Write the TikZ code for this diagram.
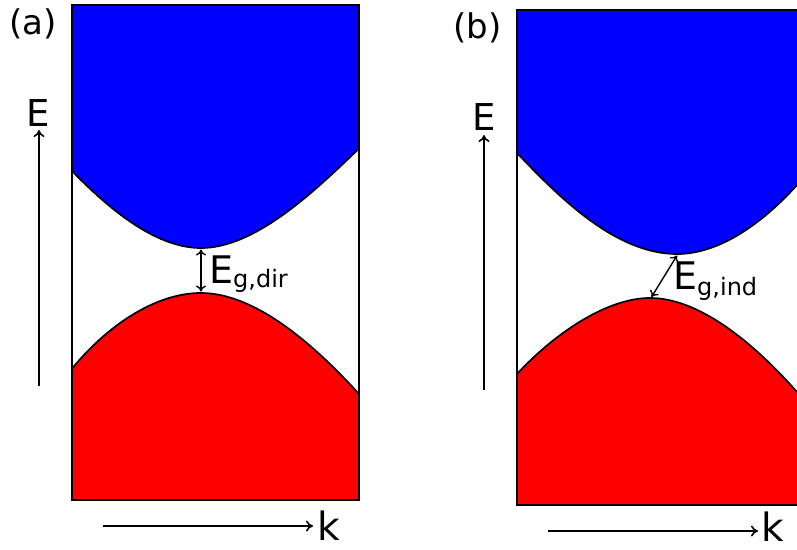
\documentclass[tikz,border=0pt]{standalone}
\usepackage{fontspec}
\setmainfont{DejaVu Sans}
\usetikzlibrary{arrows.meta}
\tikzset{
  frame/.style={draw=black, line width=2.8pt},
  band/.style={draw=black, line width=1.7pt},
  axis/.style={draw=black, line width=1.6pt, -{To[length=7pt,width=11pt]}},
  gap/.style={draw=black, line width=1.4pt, {To[length=6pt,width=10pt]}-{To[length=6pt,width=10pt]}},
  lbl/.style={inner sep=0pt, anchor=base},
  panel/.style={inner sep=0pt, anchor=base west, font=\fontsize{34}{34}\selectfont},
}
\definecolor{cband}{RGB}{0,0,255}
\definecolor{vband}{RGB}{255,0,0}
\begin{document}
\begin{tikzpicture}[x=1pt,y=-1pt]
\useasboundingbox (0,0) rectangle (797,549);
\clip (0,0) rectangle (797,549);
% ---------- panel (a)
\fill[cband] (72,5) -- (359,5) -- (359,148.5)
  .. controls (314,192) and (255,248) .. (201,248)
  .. controls (155,248) and (108,208) .. (72,171) -- cycle;
\fill[vband] (72,500) -- (72,368.6)
  .. controls (107,326) and (155,293) .. (201,293)
  .. controls (258,293) and (319,350) .. (359,394) -- (359,500) -- cycle;
\draw[band] (72,171) .. controls (108,208) and (155,248) .. (201,248)
  .. controls (255,248) and (314,192) .. (359,148.5);
\draw[band] (72,368.6) .. controls (107,326) and (155,293) .. (201,293)
  .. controls (258,293) and (319,350) .. (359,394);
\draw[frame] (72,5) rectangle (359,500);
\coordinate (cbmA) at (201,249.5);
\coordinate (vbmA) at (201,291.5);
\draw[gap] (cbmA) -- (vbmA);
\node[inner sep=0pt, anchor=base west] (gdir) at (209,283)
  {\fontsize{38}{38}\selectfont E\raisebox{-4pt}{\fontsize{24}{24}\selectfont g,dir}};
\node[panel] (pa) at (9,34) {(a)};
\node[lbl, font=\fontsize{37}{37}\selectfont] (Ea) at (38.5,126) {E};
\coordinate (EaS) at (39,386);
\coordinate (EaT) at (39,130);
\draw[axis] (EaS) -- (EaT);
\node[lbl, font=\fontsize{39}{39}\selectfont] (ka) at (328.5,540) {k};
\coordinate (kaS) at (103,526);
\coordinate (kaT) at (313,526);
\draw[axis] (kaS) -- (kaT);
% ---------- panel (b)
\fill[cband] (517,10) -- (860,10) -- (860,185) -- (797,185)
  .. controls (770,215) and (725,254) .. (677,254)
  .. controls (615,254) and (558,196) .. (517,153) -- cycle;
\fill[vband] (517,505) -- (517,374)
  .. controls (552,336) and (605,298) .. (650,298)
  .. controls (703,298) and (760,350) .. (797,392) -- (860,392) -- (860,505) -- cycle;
\draw[band] (517,153) .. controls (558,196) and (615,254) .. (677,254)
  .. controls (725,254) and (770,215) .. (797,185);
\draw[band] (517,374) .. controls (552,336) and (605,298) .. (650,298)
  .. controls (703,298) and (760,350) .. (797,392);
\draw[frame] (517,10) rectangle (860,505);
\coordinate (cbmB) at (677,255.5);
\coordinate (vbmB) at (651.5,297);
\draw[gap] (cbmB) -- (vbmB);
\node[inner sep=0pt, anchor=base west] (gind) at (673,289)
  {\fontsize{38}{38}\selectfont E\raisebox{-6pt}{\fontsize{24}{24}\selectfont g,ind}};
\node[panel] (pb) at (453,38) {(b)};
\node[lbl, font=\fontsize{37}{37}\selectfont] (Eb) at (484.5,130) {E};
\coordinate (EbS) at (484,390);
\coordinate (EbT) at (484,135);
\draw[axis] (EbS) -- (EbT);
\node[lbl, font=\fontsize{39}{39}\selectfont] (kb) at (773,541) {k};
\coordinate (kbS) at (548,531);
\coordinate (kbT) at (758,531);
\draw[axis] (kbS) -- (kbT);
\end{tikzpicture}
\end{document}
